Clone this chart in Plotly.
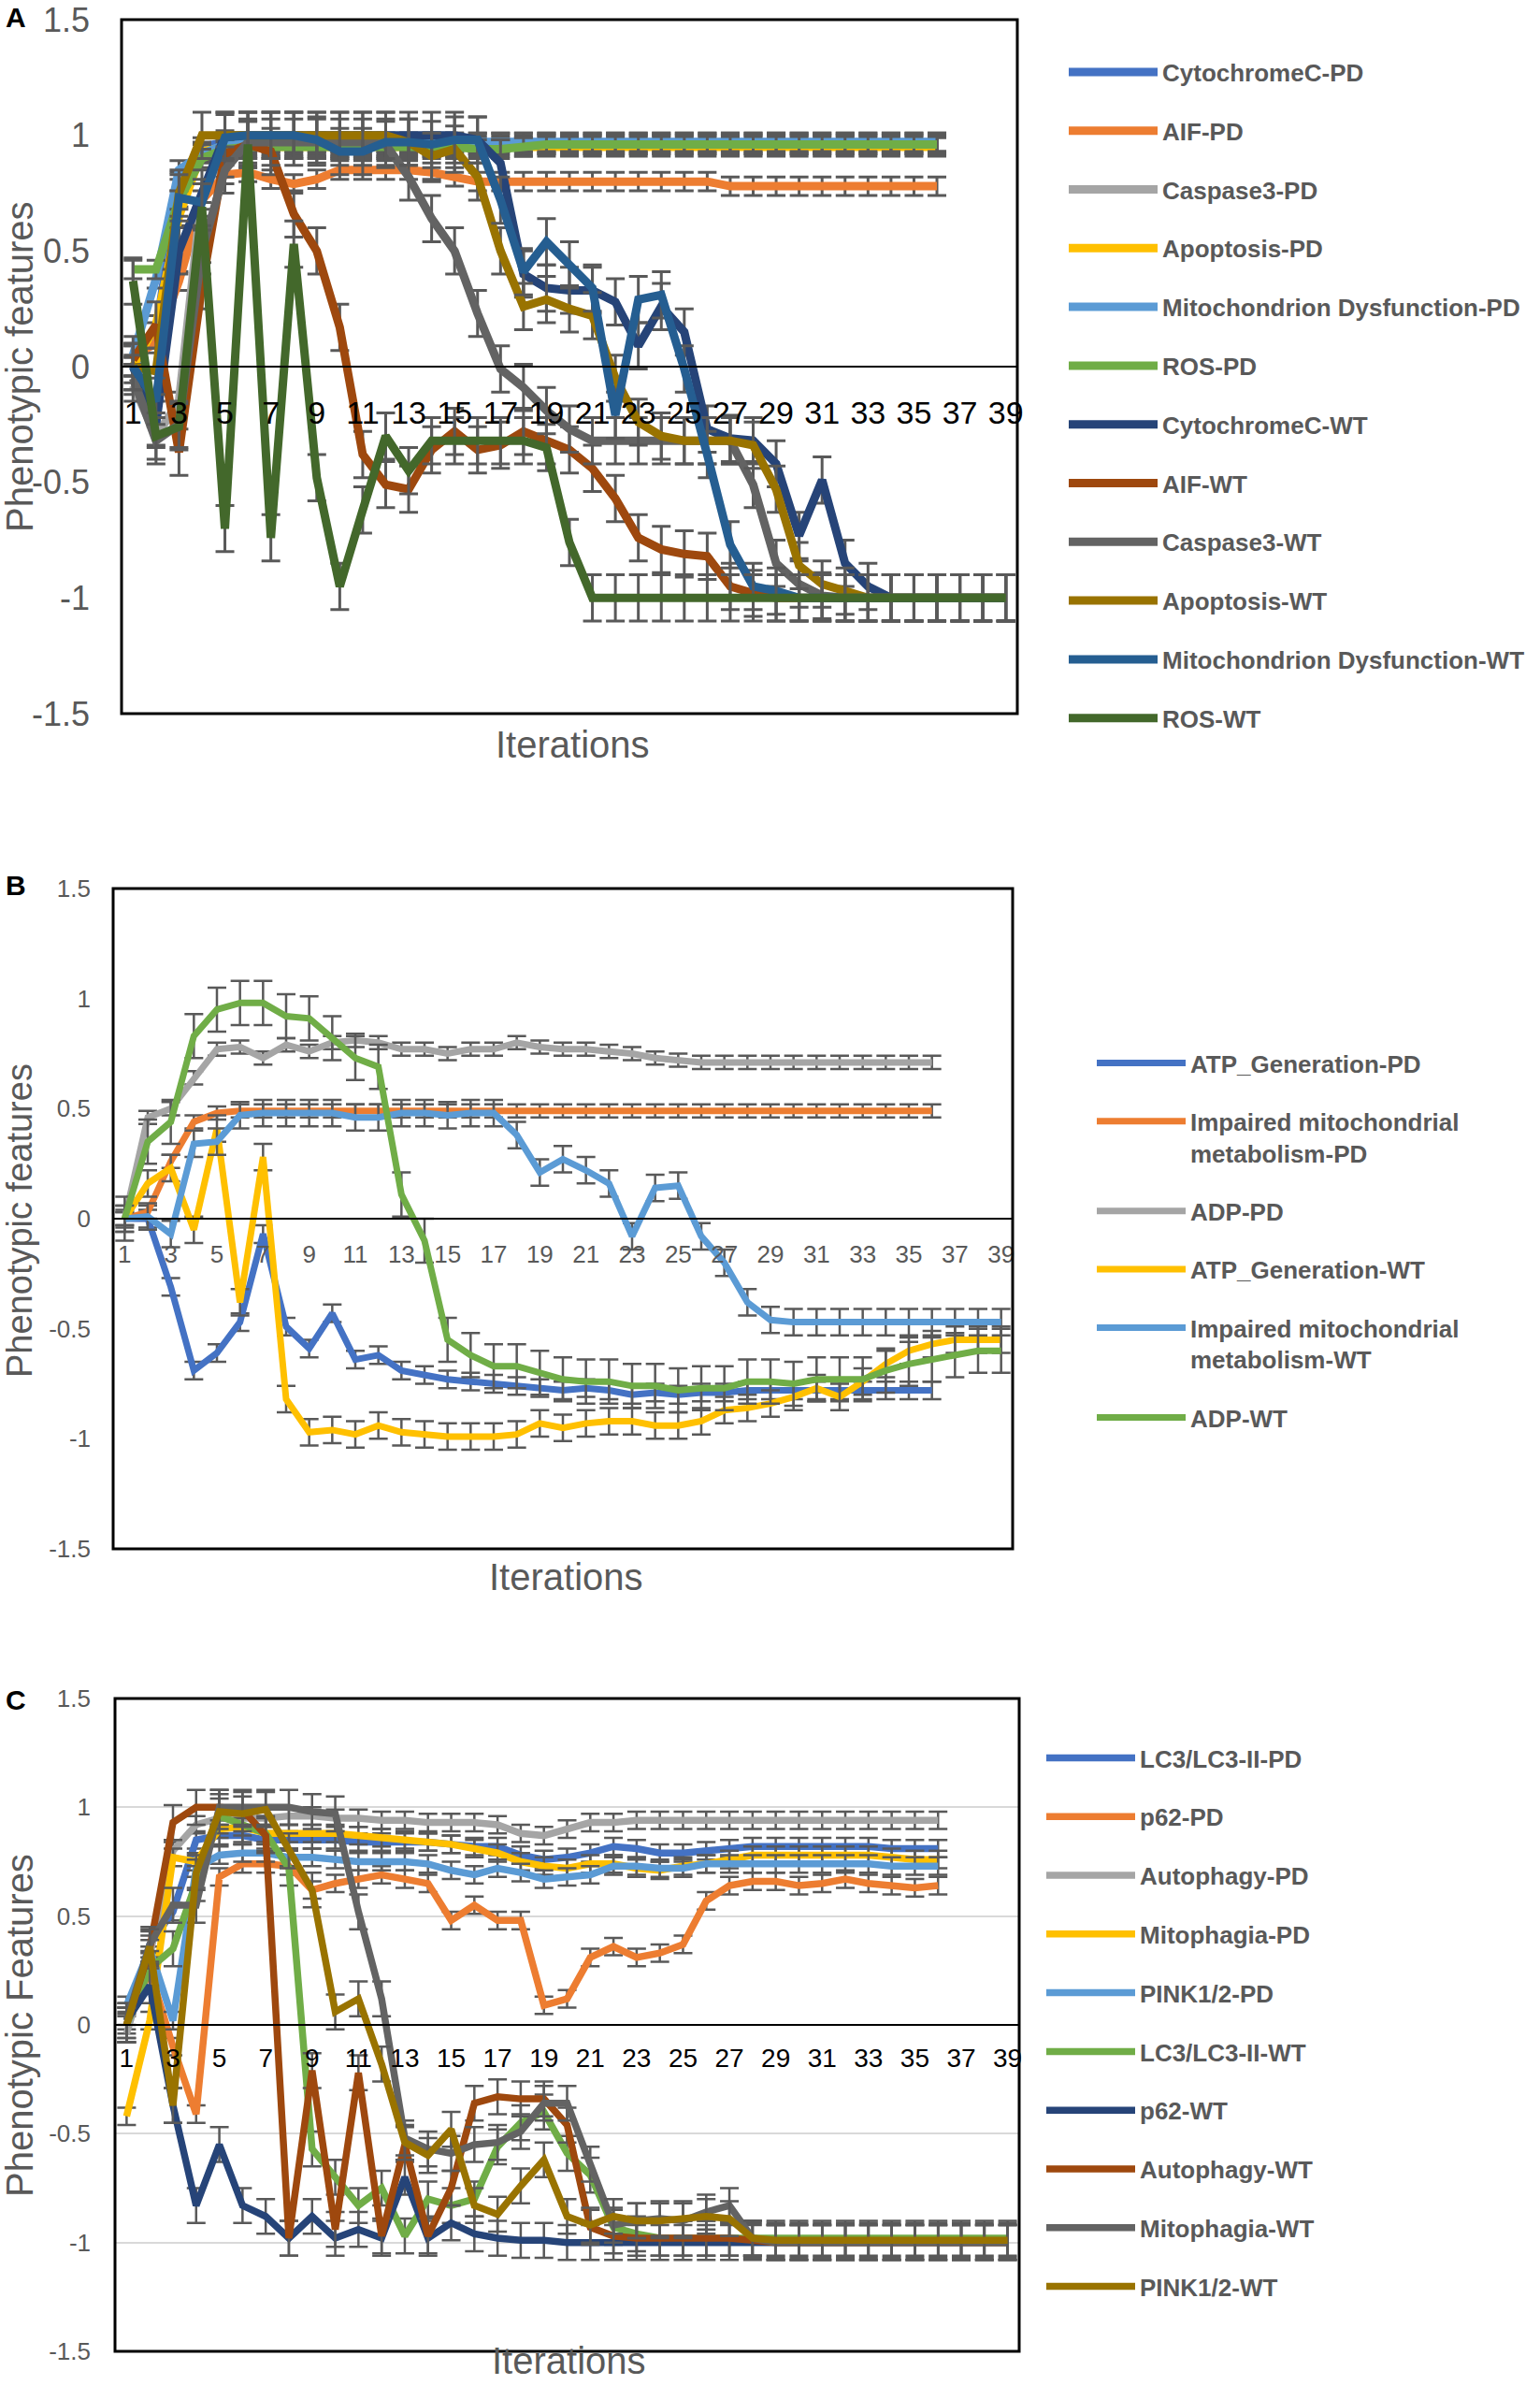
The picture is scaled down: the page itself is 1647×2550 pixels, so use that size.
import plotly.graph_objects as go

W, H = 1647, 2550

iterations = list(range(1, 40))
x_tick_vals = list(range(1, 40, 2))
x_tick_text = [str(v) for v in x_tick_vals]
y_tick_vals = [-1.5, -1, -0.5, 0, 0.5, 1, 1.5]
y_tick_text = ["-1.5", "-1", "-0.5", "0", "0.5", "1", "1.5"]

# ---------------- Panel A ----------------
a_names = ["CytochromeC-PD", "AIF-PD", "Caspase3-PD", "Apoptosis-PD",
           "Mitochondrion Dysfunction-PD", "ROS-PD", "CytochromeC-WT", "AIF-WT",
           "Caspase3-WT", "Apoptosis-WT", "Mitochondrion Dysfunction-WT", "ROS-WT"]
a_cytc_pd = [0.0, 0.15, 0.8, 0.95] + [0.97] * 32
a_aif_pd = [0.05, 0.1, 0.37, 0.72, 0.83, 0.84, 0.81, 0.79, 0.81, 0.85, 0.85, 0.85, 0.85,
            0.84, 0.82, 0.80, 0.80, 0.80, 0.80, 0.80, 0.80, 0.80, 0.80, 0.80, 0.80, 0.80] + [0.78] * 10
a_casp_pd = [-0.08, -0.3, -0.15, 0.75, 0.93] + [0.96] * 31
a_apop_pd = [0.0, 0.18, 0.65, 0.93] + [0.95] * 32
a_mito_pd = [0.05, 0.38, 0.85, 0.92, 0.96] + [0.97] * 31
a_ros_pd = [0.42, 0.42, 0.72, 0.9, 0.94, 0.95, 0.95, 0.95, 0.95, 0.95, 0.95, 0.95, 0.95,
            0.95, 0.95, 0.94, 0.94, 0.95] + [0.96] * 18
a_cytc_wt = [0.0, -0.25, 0.5, 0.75] + [1.0] * 11 + [0.98, 0.88, 0.40, 0.34, 0.33, 0.33, 0.28,
             0.09, 0.26, 0.15, -0.27, -0.31, -0.32, -0.42, -0.73, -0.49, -0.85, -0.95] + [-1.0] * 6
a_aif_wt = [0.03, 0.18, -0.37, 0.35, 0.92, 0.96, 0.93, 0.66, 0.50, 0.17, -0.38, -0.51, -0.53,
            -0.36, -0.28, -0.36, -0.34, -0.28, -0.32, -0.36, -0.44, -0.57, -0.74, -0.79, -0.81,
            -0.82, -0.95, -0.98] + [-1.0] * 11
a_casp_wt = [-0.05, -0.32, -0.25, 0.5, 0.85, 0.97, 0.97, 0.97, 0.97, 0.97, 0.97, 0.96, 0.82,
             0.64, 0.50, 0.23, -0.01, -0.09, -0.19, -0.27, -0.32, -0.32, -0.32, -0.32, -0.32,
             -0.32, -0.32, -0.51, -0.85, -0.94, -0.99] + [-1.0] * 8
a_apop_wt = [0.0, -0.02, 0.75, 1.0, 1.0, 1.0, 1.0, 1.0, 1.0, 1.0, 1.0, 1.0, 0.97, 0.91, 0.94,
             0.82, 0.50, 0.26, 0.29, 0.25, 0.22, -0.05, -0.24, -0.30, -0.32, -0.32, -0.32,
             -0.34, -0.53, -0.86, -0.94, -0.97] + [-1.0] * 7
a_mito_wt = [0.0, -0.15, 0.73, 0.71, 0.99, 1.0, 1.0, 1.0, 0.98, 0.93, 0.93, 0.97, 0.97, 0.96,
             0.98, 0.98, 0.72, 0.41, 0.54, 0.44, 0.34, -0.21, 0.29, 0.31, -0.01, -0.38, -0.77,
             -0.95, -0.97] + [-1.0] * 10
a_ros_wt = [0.37, -0.30, -0.26, 0.69, -0.70, 0.96, -0.74, 0.53, -0.48, -0.95, -0.62, -0.30,
            -0.45, -0.32, -0.32, -0.32, -0.32, -0.32, -0.35, -0.76] + [-1.0] * 19
a_values = [a_cytc_pd, a_aif_pd, a_casp_pd, a_apop_pd, a_mito_pd, a_ros_pd,
            a_cytc_wt, a_aif_wt, a_casp_wt, a_apop_wt, a_mito_wt, a_ros_wt]
a_colors = ["#4472C4", "#ED7D31", "#A5A5A5", "#FFC000", "#5B9BD5", "#70AD47",
            "#264478", "#9E480E", "#636363", "#997300", "#255E91", "#43682B"]
a_err = [0.04] * 6 + [0.1] * 6

# ---------------- Panel B ----------------
b_names = ["ATP_Generation-PD", "Impaired mitochondrial<br>metabolism-PD", "ADP-PD",
           "ATP_Generation-WT", "Impaired mitochondrial<br>metabolism-WT", "ADP-WT"]
b_atp_pd = [0.0, 0.0, -0.31, -0.69, -0.61, -0.47, -0.07, -0.49, -0.59, -0.43, -0.64, -0.62,
            -0.69, -0.71, -0.73, -0.74, -0.75, -0.76, -0.77, -0.78, -0.77, -0.78, -0.80,
            -0.79, -0.80, -0.79, -0.79, -0.78] + [-0.78] * 8
b_imp_pd = [0.0, 0.03, 0.26, 0.44, 0.48] + [0.49] * 31
b_adp_pd = [0.0, 0.46, 0.5, 0.64, 0.77, 0.78, 0.73, 0.79, 0.76, 0.80, 0.81, 0.80, 0.77, 0.77,
            0.75, 0.77, 0.77, 0.80, 0.78, 0.77, 0.77, 0.76, 0.75, 0.73, 0.72] + [0.71] * 11
b_atp_wt = [0.0, 0.16, 0.23, -0.05, 0.41, -0.38, 0.28, -0.82, -0.97, -0.96,
            -0.98, -0.94, -0.97, -0.98, -0.99, -0.99, -0.99, -0.98, -0.93, -0.95,
            -0.93, -0.92, -0.92, -0.94, -0.94, -0.92, -0.87, -0.86, -0.84, -0.81,
            -0.77, -0.81, -0.74, -0.66, -0.60, -0.57, -0.55, -0.55, -0.55]
b_imp_wt = [0.0, 0.01, -0.07, 0.34, 0.35, 0.47, 0.48, 0.48, 0.48, 0.48, 0.46, 0.46, 0.48,
            0.48, 0.47, 0.48, 0.48, 0.38, 0.21, 0.27, 0.22, 0.16, -0.08, 0.14, 0.15, -0.08,
            -0.20, -0.38, -0.46] + [-0.47] * 10
b_adp_wt = [0.0, 0.35, 0.44, 0.83, 0.95, 0.98, 0.98, 0.92, 0.91, 0.82,
            0.73, 0.69, 0.11, -0.10, -0.55, -0.62, -0.67, -0.67, -0.70, -0.73,
            -0.74, -0.74, -0.76, -0.76, -0.78, -0.77, -0.77, -0.74, -0.74, -0.75,
            -0.73, -0.73, -0.73, -0.69, -0.66, -0.64, -0.62, -0.60, -0.60]
b_values = [b_atp_pd, b_imp_pd, b_adp_pd, b_atp_wt, b_imp_wt, b_adp_wt]
b_colors = ["#4472C4", "#ED7D31", "#A5A5A5", "#FFC000", "#5B9BD5", "#70AD47"]
b_err = [0.04, 0.03, 0.03, 0.06, 0.06, 0.1]

# ---------------- Panel C ----------------
c_names = ["LC3/LC3-II-PD", "p62-PD", "Autophagy-PD", "Mitophagia-PD", "PINK1/2-PD",
           "LC3/LC3-II-WT", "p62-WT", "Autophagy-WT", "Mitophagia-WT", "PINK1/2-WT"]
c_lc3_pd = [0.02, 0.37, 0.52, 0.85, 0.87, 0.87, 0.85, 0.85, 0.85, 0.85, 0.84, 0.84, 0.84,
            0.84, 0.83, 0.82, 0.82, 0.78, 0.76, 0.77, 0.79, 0.82, 0.81, 0.79, 0.79, 0.80,
            0.81, 0.82, 0.82, 0.82, 0.82, 0.82, 0.82, 0.81, 0.81, 0.81]
c_p62_pd = [0.0, 0.25, -0.1, -0.41, 0.68, 0.74, 0.74, 0.73, 0.62, 0.65, 0.67, 0.69, 0.67,
            0.65, 0.48, 0.55, 0.48, 0.48, 0.09, 0.12, 0.31, 0.36, 0.31, 0.33, 0.37, 0.57,
            0.64, 0.66, 0.66, 0.64, 0.65, 0.67, 0.65, 0.64, 0.63, 0.64]
c_aut_pd = [-0.04, 0.32, 0.80, 0.92, 0.95, 0.95, 0.95, 0.96, 0.96, 0.95, 0.95, 0.94, 0.94,
            0.93, 0.93, 0.93, 0.92, 0.88, 0.87, 0.90, 0.93, 0.93, 0.94] + [0.94] * 13
c_mit_pd = [-0.42, 0.02, 0.77, 0.75, 0.90, 0.91, 0.88, 0.88, 0.88, 0.88, 0.87, 0.86, 0.85,
            0.84, 0.83, 0.81, 0.79, 0.75, 0.73, 0.72, 0.74, 0.74, 0.72, 0.71, 0.73, 0.74,
            0.76, 0.78, 0.78, 0.78, 0.78, 0.78, 0.78, 0.77, 0.76, 0.76]
c_pink_pd = [0.09, 0.35, 0.02, 0.72, 0.78, 0.79, 0.79, 0.77, 0.77, 0.76, 0.75, 0.75, 0.75,
             0.74, 0.71, 0.69, 0.72, 0.70, 0.67, 0.68, 0.69, 0.73, 0.73, 0.72, 0.72, 0.74,
             0.74, 0.74, 0.74, 0.74, 0.74, 0.74, 0.74, 0.73, 0.73, 0.73]
c_lc3_wt = [0.0, 0.26, 0.35, 0.65, 0.96, 0.92, 0.88, 0.72, -0.57, -0.70, -0.83, -0.75,
            -0.97, -0.80, -0.83, -0.80, -0.56, -0.45, -0.40, -0.59, -0.69, -0.93,
            -0.96] + [-0.98] * 16
c_p62_wt = [0.02, 0.18, -0.37, -0.83, -0.55, -0.83, -0.88, -0.98, -0.88, -0.98, -0.94,
            -0.98, -0.70, -0.98, -0.91, -0.96, -0.98, -0.99, -0.99] + [-1.0] * 20
c_aut_wt = [0.0, 0.35, 0.93, 1.0, 1.0, 0.99, 0.87, -0.98, -0.21, -0.94, -0.22, -0.97, -0.55,
            -0.97, -0.75, -0.36, -0.33, -0.34, -0.34, -0.46, -0.93, -0.97, -0.98, -0.98,
            -0.98, -0.98, -0.98, -0.99] + [-1.0] * 11
c_mit_wt = [0.02, 0.37, 0.55, 0.55, 1.0, 1.0, 1.0, 1.0, 0.98, 0.97, 0.52, 0.12, -0.52,
            -0.57, -0.59, -0.55, -0.54, -0.49, -0.36, -0.36, -0.64, -0.92, -0.90, -0.89,
            -0.90, -0.86, -0.83, -0.98] + [-1.0] * 11
c_pink_wt = [0.0, 0.36, -0.37, 0.70, 0.98, 0.97, 0.99, 0.80, 0.62, 0.06, 0.12, -0.18, -0.54,
             -0.60, -0.48, -0.83, -0.87, -0.74, -0.62, -0.88, -0.92, -0.88, -0.90, -0.90,
             -0.89, -0.88, -0.89, -0.98] + [-0.99] * 11
c_values = [c_lc3_pd, c_p62_pd, c_aut_pd, c_mit_pd, c_pink_pd,
            c_lc3_wt, c_p62_wt, c_aut_wt, c_mit_wt, c_pink_wt]
c_colors = ["#4472C4", "#ED7D31", "#A5A5A5", "#FFC000", "#5B9BD5",
            "#70AD47", "#264478", "#9E480E", "#636363", "#997300"]
c_err = [0.04] * 5 + [0.08] * 5

FONT = "Liberation Sans, Arial, sans-serif"
GRAY = "#595959"

fig = go.Figure()

panels = [
    dict(names=a_names, values=a_values, colors=a_colors, err=a_err, ax="", legend="legend",
         box=(130, 1088, 21, 763), ytick=36, xtick=34, xcol="black", ystand=33, xstand=19,
         lw=9, ew=3, grid=False, ytitle="Phenotypic features", ytsize=40, letter="A",
         letter_y=18, ytitle_pos=(21, 392), xtitle_pos=(612, 796),
         leg=(1138, 53.5), gap=26),
    dict(names=b_names, values=b_values, colors=b_colors, err=b_err, ax="2", legend="legend2",
         box=(121, 1083, 950, 1656), ytick=26, xtick=26, xcol=GRAY, ystand=23, xstand=15,
         lw=7, ew=2.5, grid=False, ytitle="Phenotypic features", ytsize=38, letter="B",
         letter_y=946, ytitle_pos=(21, 1305), xtitle_pos=(605, 1686),
         leg=(1168, 1113), gap=25.5),
    dict(names=c_names, values=c_values, colors=c_colors, err=c_err, ax="3", legend="legend3",
         box=(123, 1090, 1816, 2514), ytick=26, xtick=28, xcol="black", ystand=25, xstand=10,
         lw=7.5, ew=2.5, grid=True, ytitle="Phenotypic Features", ytsize=40, letter="C",
         letter_y=1817, ytitle_pos=(21, 2166), xtitle_pos=(608, 2524),
         leg=(1114, 1856), gap=26),
]

annotations = []
shapes = []
for p in panels:
    ax = p["ax"]
    for name, vals, col, e in zip(p["names"], p["values"], p["colors"], p["err"]):
        fig.add_trace(go.Scatter(
            x=iterations[:len(vals)], y=vals, name=name, mode="lines",
            line=dict(color=col, width=p["lw"]),
            error_y=dict(type="constant", value=e, color=GRAY, thickness=p["ew"], width=10),
            xaxis="x" + ax, yaxis="y" + ax, legend=p["legend"],
            legendgroup=name, showlegend=True,
        ))
    x0, x1, y0, y1 = p["box"]
    xdom = [x0 / W, x1 / W]
    ydom = [1 - y1 / H, 1 - y0 / H]
    zero_pos = 1 - ((y0 + y1) / 2) / H
    fig.update_layout(**{
        "xaxis" + ax: dict(domain=xdom, range=[0.5, 39.5], anchor="free", position=zero_pos,
                           tickmode="array", tickvals=x_tick_vals, ticktext=x_tick_text,
                           showline=True, linecolor="black", linewidth=2, ticks="",
                           ticklabelstandoff=p["xstand"], showgrid=False, zeroline=False,
                           automargin=False, ticklabeloverflow="allow",
                           tickfont=dict(family=FONT, size=p["xtick"], color=p["xcol"])),
        "yaxis" + ax: dict(domain=ydom, range=[-1.5, 1.5], anchor="x" + ax,
                           tickmode="array", tickvals=y_tick_vals, ticktext=y_tick_text,
                           showline=False, ticks="", ticklabelstandoff=p["ystand"],
                           showgrid=p["grid"], gridcolor="#D9D9D9", gridwidth=2,
                           zeroline=False, automargin=False, ticklabeloverflow="allow",
                           tickfont=dict(family=FONT, size=p["ytick"], color=GRAY)),
        p["legend"]: dict(x=p["leg"][0] / W, y=1 - p["leg"][1] / H, xanchor="left",
                          yanchor="top", itemwidth=95, tracegroupgap=p["gap"],
                          valign="top", bgcolor="rgba(0,0,0,0)",
                          font=dict(family=FONT, size=26, color=GRAY, weight="bold")),
    })
    shapes.append(dict(type="rect", xref="x" + ax + " domain", yref="y" + ax + " domain",
                       x0=0, x1=1, y0=0, y1=1, line=dict(color="black", width=3),
                       layer="above"))
    annotations.append(dict(text=p["ytitle"], x=p["ytitle_pos"][0] / W,
                            y=1 - p["ytitle_pos"][1] / H, xref="paper", yref="paper",
                            textangle=-90, showarrow=False, xanchor="center", yanchor="middle",
                            font=dict(family=FONT, size=p["ytsize"], color=GRAY)))
    annotations.append(dict(text="Iterations", x=p["xtitle_pos"][0] / W,
                            y=1 - p["xtitle_pos"][1] / H, xref="paper", yref="paper",
                            showarrow=False, xanchor="center", yanchor="middle",
                            font=dict(family=FONT, size=40, color=GRAY)))
    annotations.append(dict(text="<b>" + p["letter"] + "</b>", x=4 / W,
                            y=1 - p["letter_y"] / H, xref="paper", yref="paper",
                            showarrow=False, xanchor="left", yanchor="middle",
                            font=dict(family=FONT, size=30, color="black")))

fig.update_layout(width=W, height=H, margin=dict(l=0, r=0, t=0, b=0, autoexpand=False),
                  paper_bgcolor="white", plot_bgcolor="white",
                  annotations=annotations, shapes=shapes,
                  font=dict(family=FONT, color=GRAY))

fig.write_html("out.html", config={"displayModeBar": False},
               post_script="document.body.style.margin='0';document.body.style.padding='0';")
